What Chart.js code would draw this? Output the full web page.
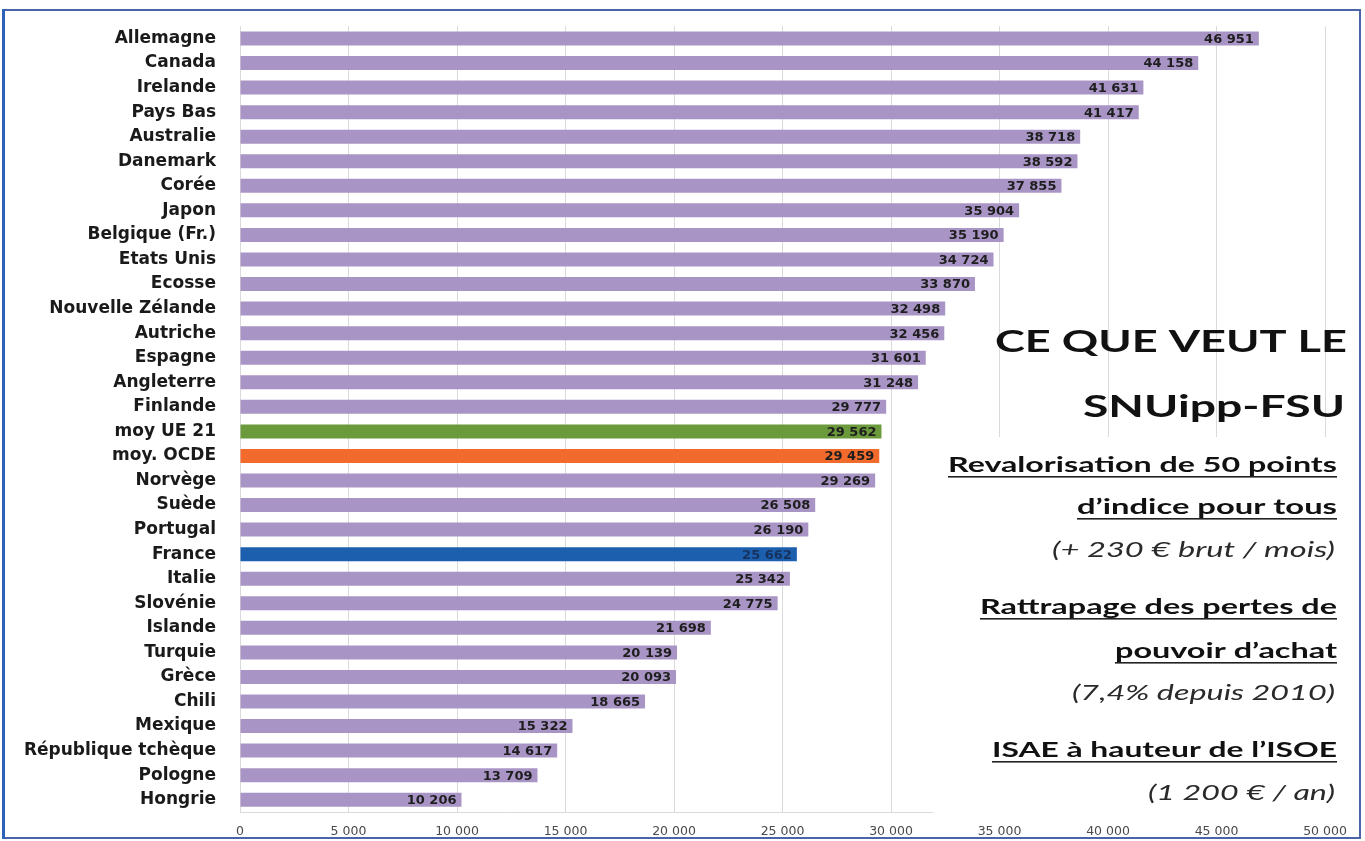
<!DOCTYPE html>
<html>
<head>
<meta charset="utf-8">
<script src="https://cdn.jsdelivr.net/npm/chart.js@4.4.1/dist/chart.umd.min.js"></script>
<style>
  body { margin: 0; background: #fff; }
  #wrap { width: 1365px; height: 841px; position: relative; }
</style>
</head>
<body>
<div id="wrap"><canvas id="myChart"></canvas></div>
<script>
// salaires statutaires (en equivalent USD)
const pays = [
  "Allemagne", "Canada", "Irelande", "Pays Bas", "Australie", "Danemark", "Corée",
  "Japon", "Belgique (Fr.)", "Etats Unis", "Ecosse", "Nouvelle Zélande", "Autriche",
  "Espagne", "Angleterre", "Finlande", "moy UE 21", "moy. OCDE", "Norvège", "Suède",
  "Portugal", "France", "Italie", "Slovénie", "Islande", "Turquie", "Grèce", "Chili",
  "Mexique", "République tchèque", "Pologne", "Hongrie"
];
const salaires = [
  46951, 44158, 41631, 41417, 38718, 38592, 37855,
  35904, 35190, 34724, 33870, 32498, 32456,
  31601, 31248, 29777, 29562, 29459, 29269, 26508,
  26190, 25662, 25342, 24775, 21698, 20139, 20093, 18665,
  15322, 14617, 13709, 10206
];
const xTicks = [0, 5000, 10000, 15000, 20000, 25000, 30000, 35000, 40000, 45000, 50000];

const texteDroite = [
  { t: "CE QUE VEUT LE", style: "bold", size: 31 },
  { t: "SNUipp-FSU", style: "bold", size: 31 },
  { t: "Revalorisation de 50 points", style: "bold", size: 21, u: true },
  { t: "d\u2019indice pour tous", style: "bold", size: 21, u: true },
  { t: "(+ 230 \u20ac brut / mois)", style: "italic", size: 21 },
  { t: "Rattrapage des pertes de", style: "bold", size: 21, u: true },
  { t: "pouvoir d\u2019achat", style: "bold", size: 21, u: true },
  { t: "(7,4% depuis 2010)", style: "italic", size: 21 },
  { t: "ISAE \u00e0 hauteur de l\u2019ISOE", style: "bold", size: 21, u: true },
  { t: "(1 200 \u20ac / an)", style: "italic", size: 21 }
];
// left, right, baseline of each line
const placeTexte = [
  [995, 1347, 352], [1083, 1345, 417], [948, 1337, 472], [1077, 1337, 514],
  [1052, 1335, 557], [980, 1337, 614], [1115, 1337, 658], [1072, 1335, 700],
  [992, 1337, 757], [1148, 1335, 800]
];

function fmt(v) {
  return String(v).replace(/\B(?=(\d{3})+(?!\d))/g, " ");
}

function couleur(p) {
  if (p === "moy UE 21") return "#6b9a3c";
  if (p === "moy. OCDE") return "#f26a2c";
  if (p === "France") return "#1c5fae";
  return "#a995c5";
}

const valeurs = {
  id: "valeurs",
  beforeDatasetsDraw(chart) {
    // white panel under the text on the right
    const ctx = chart.ctx;
    ctx.save();
    ctx.fillStyle = "#fff";
    ctx.fillRect(933, 437, 425, chart.chartArea.bottom + 1 - 437);
    ctx.restore();
  },
  afterDatasetsDraw(chart) {
    const ctx = chart.ctx;
    const meta = chart.getDatasetMeta(0);
    ctx.save();
    ctx.font = "bold 13px 'DejaVu Sans'";
    ctx.textAlign = "right";
    ctx.textBaseline = "middle";
    meta.data.forEach((bar, i) => {
      ctx.fillStyle = pays[i] === "France" ? "#16325e" : "#1e1e1e";
      ctx.fillText(fmt(salaires[i]), bar.x - 5, bar.y + 1);
    });
    ctx.restore();
  },
  afterDraw(chart) {
    const ctx = chart.ctx;
    ctx.save();
    texteDroite.forEach((l, i) => {
      const [x0, x1, yb] = placeTexte[i];
      ctx.font = (l.style === "bold" ? "bold " : "italic ") + l.size + "px Lato";
      ctx.fillStyle = l.style === "bold" ? "#111" : "#2a2a2a";
      ctx.textAlign = "left";
      ctx.textBaseline = "alphabetic";
      const w = ctx.measureText(l.t).width;
      ctx.save();
      ctx.translate(x0, yb);
      ctx.scale((x1 - x0) / w, 1);
      ctx.fillText(l.t, 0, 0);
      ctx.restore();
      if (l.u) {
        ctx.fillStyle = "#222";
        ctx.fillRect(x0, yb + 4, x1 - x0, 1.6);
      }
    });
    // cadre
    ctx.fillStyle = "#4a64a8";
    ctx.fillRect(3, 9, 1358, 2);
    ctx.fillRect(3, 837, 1358, 2);
    ctx.fillRect(1359, 9, 2, 830);
    ctx.fillStyle = "#2d62b8";
    ctx.fillRect(2, 9, 3, 830);
    ctx.restore();
  }
};

const ctx = document.getElementById("myChart").getContext("2d");
new Chart(ctx, {
  type: "bar",
  data: {
    labels: pays,
    datasets: [{
      data: salaires,
      backgroundColor: pays.map(couleur),
      barPercentage: 0.57,
      categoryPercentage: 1
    }]
  },
  options: {
    indexAxis: "y",
    responsive: true,
    maintainAspectRatio: false,
    animation: false,
    layout: { padding: { top: 6, right: 40, left: 0, bottom: 0 } },
    plugins: {
      legend: { display: false },
      tooltip: { enabled: false }
    },
    scales: {
      x: {
        min: 0,
        max: 50000,
        afterFit(scale) { scale.height = 29; },
        afterBuildTicks(scale) { scale.ticks = xTicks.map(v => ({ value: v })); },
        grid: { color: "#dadada", drawTicks: false },
        border: { color: "#dadada" },
        ticks: {
          padding: 12,
          color: "#4a4a4a",
          font: { family: "'DejaVu Sans'", size: 12.5 },
          callback: v => fmt(v)
        }
      },
      y: {
        afterFit(scale) { scale.width = 240; },
        grid: { display: false },
        border: { display: false },
        ticks: {
          padding: 16,
          color: "#1a1a1a",
          autoSkip: false,
          font: { family: "'DejaVu Sans'", size: 17, weight: "bold" }
        }
      }
    }
  },
  plugins: [valeurs]
});
</script>
</body>
</html>
